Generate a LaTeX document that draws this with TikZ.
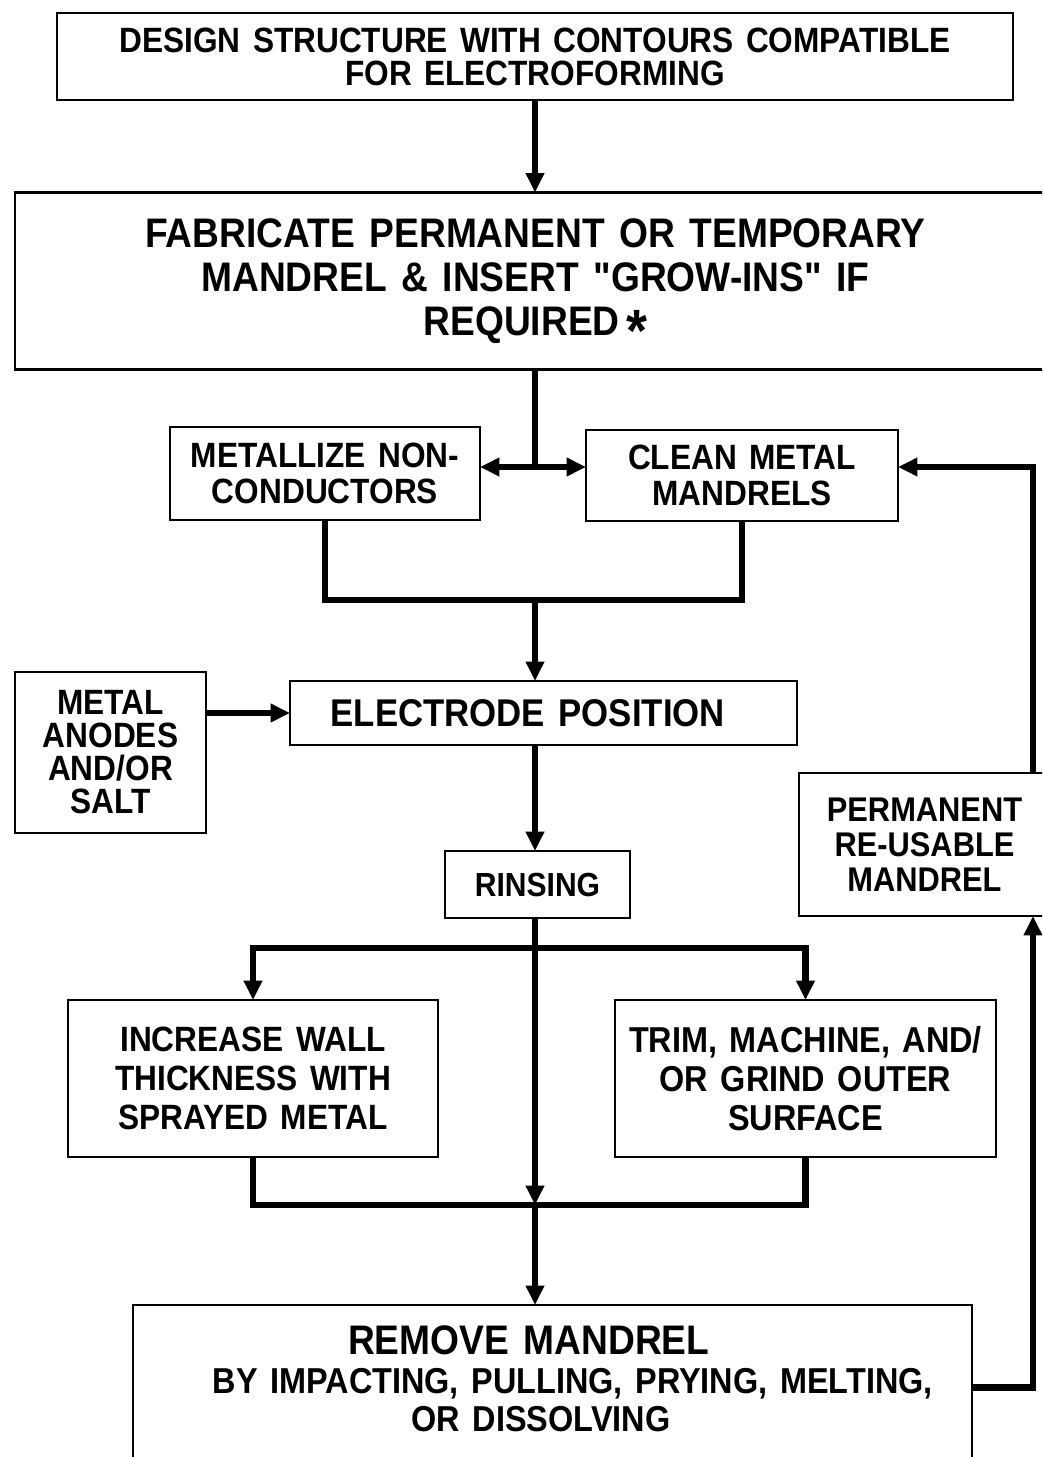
\documentclass[tikz,border=0pt]{standalone}
\usepackage{fontspec}
\newfontfamily\flowfont{Liberation Sans}[FakeStretch=0.9, WordSpace=1.4]
\usetikzlibrary{arrows.meta, positioning}

\newcommand{\boxfont}[2]{\flowfont\bfseries\fontsize{#1}{#2}\selectfont}

\begin{document}
\begin{tikzpicture}[x=0.02cm, y=-0.02cm,
    caja/.style={draw, line width=1.2pt, inner sep=0pt, outer sep=0pt, align=center},
    flujo/.style={line width=3.8pt, line join=miter},
    flecha/.style={flujo, -{Triangle[length=11pt, width=10pt]}}]
    \clip (0,0) rectangle (1042,1457);

    \node[caja, minimum width=19.12cm, minimum height=1.74cm, font=\boxfont{20}{18.8}] (design) at (535,56.5) {DESIGN STRUCTURE WITH CONTOURS COMPATIBLE\\FOR ELECTROFORMING};
    \node[caja, minimum width=20.82cm, minimum height=3.54cm, font=\boxfont{23.5}{25}] (mandrel) at (535.5,281) {FABRICATE PERMANENT OR TEMPORARY\\MANDREL \& INSERT "GROW-INS" IF\hspace*{14pt}\\REQUIRED\,\smash{\raisebox{-9pt}{\fontsize{34}{25}\selectfont *}}};

    \node[caja, minimum width=6.2cm, minimum height=1.86cm, font=\boxfont{20}{20.5}] (metal) at (325,473.5) {METALLIZE NON-\\CONDUCTORS};
    \node[caja, minimum width=6.24cm, minimum height=1.82cm, font=\boxfont{20}{20.5}] (clean) at (742,475.5) {CLEAN METAL\\MANDRELS};

    \node[caja, minimum width=10.14cm, minimum height=1.28cm, font=\boxfont{22}{22}] (elec) at (543.5,713) {ELECTRODE POSITION\hspace*{18pt}};
    \node[caja, minimum width=3.82cm, minimum height=3.22cm, font=\boxfont{20}{18.8}] (anodes) at (110.5,752.5) {METAL\\ANODES\\AND/OR\\SALT};
    \node[caja, minimum width=3.7cm, minimum height=1.34cm, font=\boxfont{19}{19}] (rinse) at (537.5,884.5) {RINSING};
    \node[caja, minimum width=5.02cm, minimum height=2.86cm, font=\boxfont{19.5}{20}] (perm) at (924.5,844.5) {PERMANENT\\RE-USABLE\\MANDREL};

    \node[caja, minimum width=7.4cm, minimum height=3.14cm, font=\boxfont{20}{22}] (wall) at (253,1078.5) {INCREASE WALL\\THICKNESS WITH\\SPRAYED METAL};
    \node[caja, minimum width=7.62cm, minimum height=3.14cm, font=\boxfont{20.5}{22}] (trim) at (805.5,1078.5) {TRIM, MACHINE, AND/\\OR GRIND OUTER\\SURFACE};

    % bottom box runs off the page, its text sits a bit high
    \node[caja, minimum width=16.78cm, minimum height=3.3cm] (remove) at (552.5,1387.5) {};
    \node[align=center, inner sep=0pt, font=\boxfont{20.5}{22}] (removetext) at (552.5,1379) {{\fontsize{23.5}{22}\selectfont REMOVE MANDREL}\hspace*{27pt}\\\hspace*{23pt}BY IMPACTING, PULLING, PRYING, MELTING,\\OR DISSOLVING\hspace*{13pt}};

    % junctions
    \coordinate (split1) at (535,467);
    \coordinate (merge1) at (535,600);
    \coordinate (split2) at (535,948);
    \coordinate (merge2) at (535,1205);
    \coordinate (ret) at (1033,1387);

    \draw[flecha] (design.south) -- (design.south |- mandrel.north);
    \draw[flujo] (mandrel.south -| split1) -- (split1);
    \draw[flujo, {Triangle[length=11pt, width=10pt]}-{Triangle[length=11pt, width=10pt]}] (split1 -| metal.east) -- (split1 -| clean.west);
    \draw[flujo] (metal.south) -- (metal.south |- merge1) -- (clean.south |- merge1) -- (clean.south);
    \draw[flecha] (merge1) -- (elec.north -| merge1);
    \draw[flecha] (elec.west -| anodes.east) -- (elec.west);
    \draw[flecha] (elec.south -| merge1) -- (rinse.north -| merge1);

    \draw[flecha] (rinse.south -| merge1) -- (merge2);
    \draw[flecha] (split2) -| (wall.north);
    \draw[flecha] (split2) -| (trim.north);
    \draw[flujo] (wall.south) |- (merge2) -| (trim.south);
    \draw[flecha] (merge2) -- (remove.north -| merge2);

    % return of re-usable mandrel
    \draw[flecha] (remove.east) -| (perm.south -| ret);
    \draw[flecha] (perm.north -| ret) |- (split1 -| clean.east);
\end{tikzpicture}
\end{document}
